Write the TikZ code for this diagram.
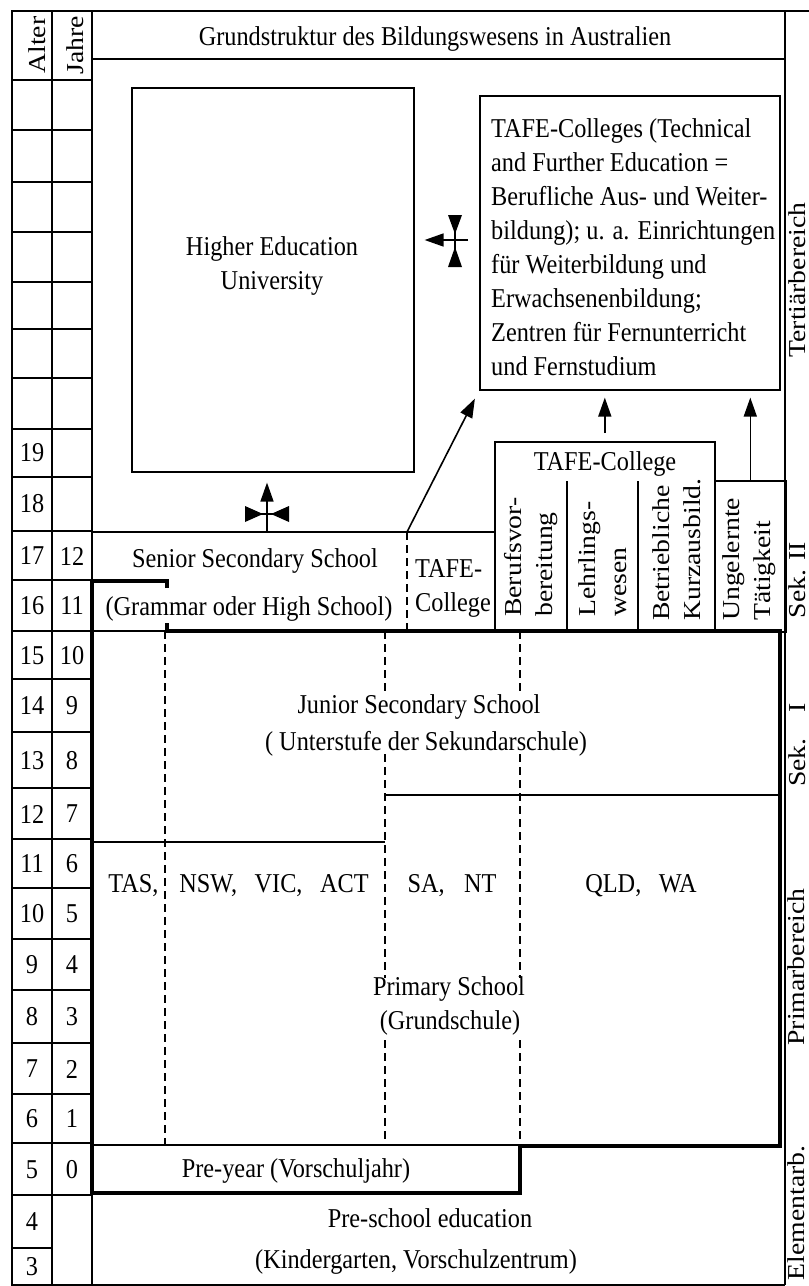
\documentclass[tikz,border=0pt]{standalone}
\usepackage{fontspec}
\setmainfont{Liberation Serif}
\usetikzlibrary{arrows.meta}
\begin{document}
\begin{tikzpicture}[x=1pt,y=-1pt,
  gridline/.style={line width=1.6pt},
  heavy/.style={line width=4.6pt, line join=miter},
  dashline/.style={line width=1.4pt, dash pattern=on 8pt off 5pt},
  boxnode/.style={draw, line width=1.6pt, inner sep=0pt, anchor=north west},
  lbl/.style={font=\fontsize{24.3}{30.4}\selectfont, inner sep=0pt, yscale=1.12},
  vtxt/.style={font=\fontsize{24.3}{31}\selectfont, inner sep=0pt, align=left, rotate=90, xscale=1.14},
  rlabel/.style={vtxt, anchor=base},
  arrowline/.style={-{Triangle[length=19pt,width=13pt]}, line width=1.6pt},
]
\useasboundingbox (0,0) rectangle (809,1286);
\fill[white] (0,0) rectangle (809,1286);

% outer frame, age and school-year columns
\draw[gridline] (809,11) -- (12,11) -- (12,1285) -- (785,1285);
\draw[gridline] (52,11) -- (52,1285);
\draw[gridline] (92,11) -- (92,1285);
\draw[gridline] (785,11) -- (785,1285);
\draw[gridline] (92,59) -- (785,59);
\foreach \r in {80,130,182,232,282,329,378,429,477,531,580,631,679,732,788,839,888,939,990,1043,1094,1143,1195}
  \draw[gridline] (12,\r) -- (92,\r);
\draw[gridline] (12,1248) -- (52,1248);

\node[vtxt, anchor=center] (alter) at (37,45) {Alter};
\node[vtxt, anchor=center] (jahre) at (75,45) {Jahre};

\foreach \a/\yc in {19/453,18/504,17/556,16/606,15/656,14/706,13/761,12/814,11/864,10/914,9/965,8/1017,7/1069,6/1119,5/1170,4/1222,3/1267}
  \node[lbl] (age\a) at (32,\yc) {\a};
\foreach \j/\yc in {12/556,11/606,10/656,9/706,8/761,7/814,6/864,5/914,4/965,3/1017,2/1069,1/1119,0/1170}
  \node[lbl] (yr\j) at (72,\yc) {\j};

\node[lbl, anchor=base] (title) at (435,45) {Grundstruktur des Bildungswesens in Australien};

% tertiary sector
\node[boxnode, minimum width=282pt, minimum height=384pt] (uni) at (131,87) {};
\node[lbl, align=center, anchor=north] (unitext) at (272,236.5) {Higher Education\\University};

\node[boxnode, minimum width=300pt, minimum height=294pt] (tafe) at (479,95) {};
\node[lbl, align=left, anchor=north west] (tafetext) at (491,118) {TAFE-Colleges (Technical\\and Further Education =\\Berufliche Aus- und Weiter-\\bildung); u. a. Einrichtungen\\f\"ur Weiterbildung und\\Erwachsenenbildung;\\Zentren f\"ur Fernunterricht\\und Fernstudium};

% upper secondary
\draw[gridline] (92,532) -- (494,532);
\node[lbl, anchor=base] (senior) at (255,567) {Senior Secondary School};
\node[lbl, anchor=base] (grammar) at (249,615) {(Grammar oder High School)};
\draw[dashline] (407,532) -- (407,631);
\node[lbl, align=left, anchor=north west] (tafeleft) at (415,559) {TAFE-\\College};

\node[boxnode, minimum width=220pt, minimum height=190pt] (tafecol) at (494,441) {};
\node[lbl, anchor=base] (tafecoltitle) at (605,470) {TAFE-College};
\draw[gridline] (567,481) -- (567,631);
\draw[gridline] (638,481) -- (638,631);
\node[vtxt, anchor=west] (beruf) at (531.5,617) {Berufsvor-\\bereitung};
\node[vtxt, anchor=west] (lehr) at (603,617) {Lehrlings-\\wesen};
\node[vtxt, anchor=west] (betr) at (677,621) {Betriebliche\\Kurzausbild.};

\node[boxnode, minimum width=71pt, minimum height=151pt] (ungel) at (714,480) {};
\node[vtxt, anchor=west] (ungeltext) at (749.5,621) {Ungelernte\\T\"atigkeit};

% compulsory school block
\draw[gridline] (92,631) -- (167,631);
\draw[gridline] (92,842) -- (385,842);
\draw[gridline] (385,795) -- (780,795);
\draw[gridline] (92,1145) -- (520,1145);
\draw[dashline] (165,631) -- (165,1145);
\draw[dashline] (385,631) -- (385,694) (385,754) -- (385,978) (385,1040) -- (385,1145);
\draw[dashline] (520,631) -- (520,694) (520,754) -- (520,978) (520,1040) -- (520,1145);
\draw[heavy] (167,588) -- (167,581) -- (92,581) -- (92,1193) -- (520,1193) -- (520,1146) -- (780,1146) -- (780,631) -- (167,631) -- (167,623);

\node[lbl, anchor=base] (junior) at (419,713) {Junior Secondary School};
\node[lbl, anchor=base] (unterstufe) at (426,750) {( Unterstufe der Sekundarschule)};
\node[lbl, anchor=base] (tas) at (133.5,892) {TAS,};
\node[lbl, anchor=base] (nsw) at (274,892) {NSW,\hspace{0.47em} VIC,\hspace{0.47em} ACT};
\node[lbl, anchor=base] (sant) at (452,892) {SA,\hspace{0.55em} NT};
\node[lbl, anchor=base] (qldwa) at (641,892) {QLD,\hspace{0.47em} WA};
\node[lbl, anchor=base] (primary) at (449,995) {Primary School};
\node[lbl, anchor=base] (grund) at (450,1029) {(Grundschule)};
\node[lbl, anchor=base] (preyear) at (296,1177) {Pre-year (Vorschuljahr)};
\node[lbl, anchor=base] (preschool) at (430,1227) {Pre-school education};
\node[lbl, anchor=base] (kiga) at (416,1268) {(Kindergarten, Vorschulzentrum)};

% sector labels
\node[rlabel] (tert) at (805,280) {Terti\"arbereich};
\node[rlabel] (sek2) at (805,580) {Sek. II};
\node[rlabel] (sek1) at (805,745) {Sek.\hspace{0.6em} I};
\node[rlabel] (prim) at (804.5,967) {Primarbereich};
\node[rlabel] (elem) at (804,1213) {Elementarb.};

% transitions
\coordinate (split) at (407,532);
\draw[arrowline, shorten >=9pt] (split) -- (tafe.south west);
\draw[arrowline, shorten <=8pt, shorten >=7pt] (tafecol.north) -- (tafecol.north |- tafe.south);
\draw[arrowline, shorten >=7pt] (ungel.north) -- (ungel.north |- tafe.south);

\coordinate (xa) at (455,240);
\draw[arrowline, shorten <=11pt, shorten >=10pt] (xa -| tafe.west) -- (xa -| uni.east);
\draw[gridline] (xa) ++(0,-25) -- ++(0,52);
\fill (xa) ++(-7,-25) -- ++(14,0) -- ++(-7,19) -- cycle;
\fill (xa) ++(-7,27) -- ++(14,0) -- ++(-7,-20) -- cycle;

\coordinate (sb) at (267,532);
\coordinate (xb) at (267,514);
\draw[arrowline, shorten >=10pt] (sb) -- (sb |- uni.south);
\draw[gridline] (xb) ++(-22,0) -- ++(44,0);
\fill (xb) ++(-22,-8) -- ++(0,16) -- ++(18,-8) -- cycle;
\fill (xb) ++(22,-8) -- ++(0,16) -- ++(-18,-8) -- cycle;
\end{tikzpicture}
\end{document}
